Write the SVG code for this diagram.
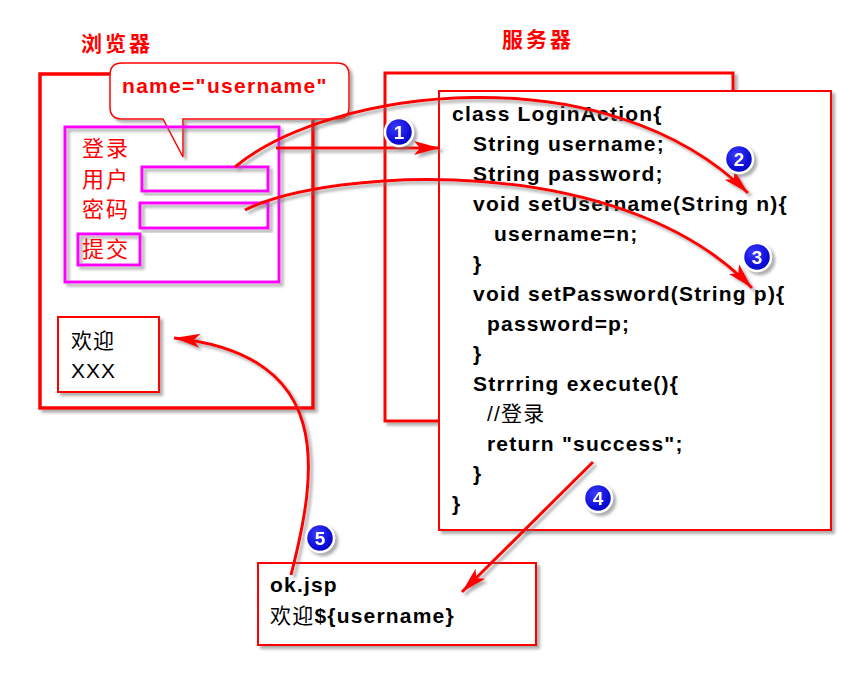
<svg xmlns="http://www.w3.org/2000/svg" width="857" height="673" viewBox="0 0 857 673">
<defs>
<filter id="sh" x="-10%" y="-10%" width="130%" height="130%">
<feDropShadow dx="3" dy="3" stdDeviation="1.5" flood-color="#777" flood-opacity="0.6"/>
</filter>
<radialGradient id="bl" cx="40%" cy="35%" r="65%">
<stop offset="0" stop-color="#3a3aff"/>
<stop offset="1" stop-color="#0000c8"/>
</radialGradient>
<marker id="ah" markerUnits="userSpaceOnUse" markerWidth="28" markerHeight="16" refX="26" refY="8" orient="auto" viewBox="0 0 28 16">
<path d="M0,1 L26,8 L0,15 L6,8 z" fill="#ff0000"/>
</marker>
<style>
.red{fill:none;stroke:#ff0000}
.box{fill:#fff;stroke:#ff0000}
.mag{fill:none;stroke:#ff00ff;stroke-width:3}
.lbl{font-family:"Noto Sans CJK SC",sans-serif;font-size:21px;font-weight:bold;fill:#ff0000;letter-spacing:3px}
.form{font-family:"Noto Sans CJK SC",sans-serif;font-size:22px;fill:#ff0000;letter-spacing:2px}
.code{font-family:"Liberation Sans","Noto Sans CJK SC",sans-serif;font-size:21px;font-weight:bold;fill:#000;letter-spacing:1.2px}
.txt{font-family:"Liberation Sans","Noto Sans CJK SC",sans-serif;font-size:21px;fill:#000;letter-spacing:1px}
.con{fill:none;stroke:#ff0000;stroke-width:3;marker-end:url(#ah)}
.num{font-family:"Liberation Sans",sans-serif;font-size:19px;font-weight:bold;fill:#fff;text-anchor:middle}
.circ{fill:url(#bl);stroke:#fff;stroke-width:2.5}
</style>
</defs>
<rect width="857" height="673" fill="#fff"/>

<g id="browser-label"><text class="lbl" x="81" y="51">浏览器</text></g>
<g id="server-label"><text class="lbl" x="502" y="47">服务器</text></g>

<g id="browser">
<rect class="box" x="40" y="74" width="273" height="334" stroke-width="3.5" filter="url(#sh)"/>
</g>

<g id="callout">
<path d="M122,63 H337 Q349,63 349,75 V107 Q349,119 337,119 H183 V157 L163,119 H122 Q110,119 110,107 V75 Q110,63 122,63 Z" fill="#fff" stroke="#ff0000" stroke-width="1.5" filter="url(#sh)"/>
<text x="122" y="93" font-family="Liberation Sans, sans-serif" font-size="21" font-weight="bold" fill="#ff0000" letter-spacing="1.3">name="username"</text>
</g>

<g id="login-form">
<rect class="mag" x="65" y="127" width="214" height="155" filter="url(#sh)"/>
<text class="form" x="82" y="156">登录</text>
<text class="form" x="82" y="187">用户</text>
<text class="form" x="82" y="217">密码</text>
</g>
<g id="username-input"><rect class="mag" x="142" y="167" width="126" height="24" filter="url(#sh)"/></g>
<g id="password-input"><rect class="mag" x="140" y="203" width="128" height="25" filter="url(#sh)"/></g>
<g id="submit"><rect class="mag" x="78" y="234" width="62" height="31" filter="url(#sh)"/>
<text class="form" x="82" y="257">提交</text></g>

<g id="welcome">
<rect class="box" x="58" y="317" width="101" height="75" stroke-width="2" filter="url(#sh)"/>
<text class="txt" x="71" y="348">欢迎</text>
<text class="txt" x="71" y="378">XXX</text>
</g>

<g id="server">
<rect class="box" x="385" y="73" width="348" height="348" stroke-width="3" filter="url(#sh)"/>
</g>

<g id="login-action">
<rect class="box" x="439" y="91" width="392" height="439" stroke-width="2" filter="url(#sh)"/>
<text class="code" x="452" y="121">class LoginAction{</text>
<text class="code" x="473" y="151">String username;</text>
<text class="code" x="473" y="181">String password;</text>
<text class="code" x="473" y="211">void setUsername(String n){</text>
<text class="code" x="494" y="241">username=n;</text>
<text class="code" x="473" y="271">}</text>
<text class="code" x="473" y="301">void setPassword(String p){</text>
<text class="code" x="487" y="331">password=p;</text>
<text class="code" x="473" y="361">}</text>
<text class="code" x="473" y="391">Strrring execute(){</text>
<text class="code" x="487" y="421"><tspan font-weight="normal">//登录</tspan></text>
<text class="code" x="487" y="451">return "success";</text>
<text class="code" x="473" y="481">}</text>
<text class="code" x="452" y="511">}</text>
</g>

<g id="ok-jsp">
<rect class="box" x="258" y="563" width="278" height="82" stroke-width="2" filter="url(#sh)"/>
<text class="code" x="270" y="592">ok.jsp</text>
<text class="code" x="270" y="623"><tspan font-weight="normal">欢迎</tspan>${username}</text>
</g>

<g id="connectors" filter="url(#sh)">
<path class="con" d="M276,148 L440,148"/>
<path class="con" d="M235,167 C330,88 605,52 748,193"/>
<path class="con" d="M245,210 C330,168 620,150 752,288"/>
<path class="con" d="M593,462 L462,592"/>
<path class="con" d="M291,575 C318,470 335,355 174,338"/>
</g>

<g id="steps" filter="url(#sh)">
<g id="step1"><circle class="circ" cx="399" cy="132" r="14"/><text class="num" x="399" y="139">1</text></g>
<g id="step2"><circle class="circ" cx="739" cy="159" r="14"/><text class="num" x="739" y="166">2</text></g>
<g id="step3"><circle class="circ" cx="757" cy="257" r="14"/><text class="num" x="757" y="264">3</text></g>
<g id="step4"><circle class="circ" cx="598" cy="498" r="14"/><text class="num" x="598" y="505">4</text></g>
<g id="step5"><circle class="circ" cx="320" cy="538" r="14"/><text class="num" x="320" y="545">5</text></g>
</g>
</svg>
